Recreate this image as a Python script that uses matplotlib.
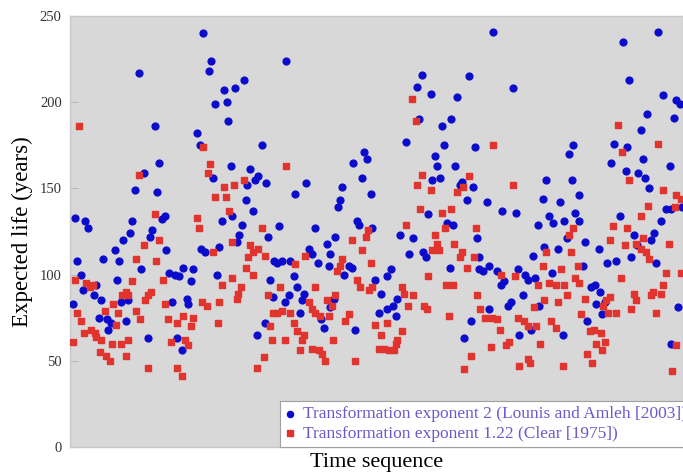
import matplotlib.pyplot as plt

plt.rcParams['font.family'] = ['Liberation Serif', 'DejaVu Serif']

# time step and expected life (years), exponent 2 (Lounis and Amleh)
blue_t = [69, 85, 89, 74, 65, 87, 5, 15, 18, 95, 92, 62, 60, 53, 82, 80, 45, 49, 96, 7,
          33, 71, 99, 11, 47, 26, 13, 24, 31, 3, 51, 58, 29, 37, 41, 38, 56, 78,
          133, 141, 139, 174, 165, 154, 145, 157, 158, 127, 192, 130, 161, 180, 188, 185, 177, 143,
          196, 176, 183, 162, 152, 172, 169, 167, 198, 131, 135, 149, 204, 113, 123, 105, 109, 147,
          121, 200, 203, 102, 117, 118, 195, 187, 107, 112,
          216, 294, 297, 283, 292, 236, 272, 225, 301, 270, 268, 287, 289, 302, 209, 245, 265, 257,
          239, 242, 248, 260, 207, 212, 220, 279, 282, 274, 259, 224, 227, 305, 234, 232, 219, 215,
          264, 260, 230, 251, 254, 285,
          352, 347, 361, 399, 387, 349, 381, 372, 336, 374, 405, 365, 367, 385, 362, 370, 392, 390,
          403, 397, 358, 377, 383, 330, 343, 407, 339, 353, 356, 380, 409, 321, 317, 311, 327, 323,
          317, 309, 326, 401, 394,
          423, 443, 503, 499, 476, 502, 473, 490, 509, 417, 432, 446, 479, 483, 468, 494, 505, 509,
          497, 474, 488, 463, 409, 419, 413, 427, 434, 431, 448, 455, 458, 465, 482, 453, 441, 438,
          419, 469, 461, 449, 493,
          588, 553, 559, 593, 606, 610, 577, 604, 571, 544, 557, 573, 541, 600, 556, 568, 575, 579,
          596, 601, 612, 550, 591, 584, 581, 564, 567, 515, 529, 561, 586, 537, 546, 513, 521, 525,
          530, 526, 535, 532, 608, 517, 601]
blue_y = [217, 186, 165, 159, 149, 148, 133, 131, 127, 134, 132, 131, 124, 120, 126, 122, 114, 108, 114, 108,
          109, 103, 101, 100, 97, 94, 91, 88, 85, 83, 84, 85, 75, 74, 72, 68, 73, 63,
          240, 224, 218, 213, 208, 207, 199, 200, 189, 182, 175, 175, 163, 161, 157, 155, 152, 156,
          153, 143, 137, 134, 131, 129, 123, 119, 122, 115, 113, 116, 108, 104, 103, 100, 99, 100,
          96, 97, 87, 84, 86, 83, 72, 65, 63, 56,
          224, 171, 167, 165, 156, 153, 151, 147, 147, 143, 139, 131, 129, 127, 128, 127, 122, 118,
          115, 112, 107, 112, 107, 108, 108, 105, 104, 100, 105, 99, 93, 97, 89, 85, 88, 84,
          86, 81, 78, 74, 69, 68,
          216, 209, 205, 215, 203, 190, 190, 186, 177, 175, 174, 169, 163, 163, 155, 156, 154, 152,
          151, 143, 135, 130, 129, 123, 121, 121, 112, 113, 110, 104, 103, 103, 99, 89, 86, 82,
          80, 78, 76, 73, 63,
          241, 208, 175, 170, 155, 155, 144, 142, 146, 142, 137, 136, 134, 130, 129, 131, 136, 131,
          121, 116, 115, 111, 110, 105, 102, 102, 96, 94, 103, 100, 97, 98, 101, 88, 84, 82,
          80, 82, 68, 65, 65,
          241, 235, 213, 204, 201, 199, 193, 191, 184, 176, 174, 167, 165, 163, 160, 159, 156, 150,
          138, 138, 139, 134, 131, 124, 120, 123, 117, 119, 115, 110, 107, 107, 108, 105, 93, 94,
          90, 83, 84, 77, 81, 73, 60]

# exponent 1.22 (Clear)
red_t = [9, 69, 85, 89, 74, 66, 86, 5, 16, 20, 23, 62, 93, 81, 78, 56, 52, 58, 43, 75,
         95, 7, 35, 48, 66, 70, 98, 11, 46, 21, 25, 14, 26, 31, 3, 42, 51, 58, 101, 30,
         36, 40, 56, 78,
         133, 140, 138, 154, 164, 174, 145, 156, 159, 127, 129, 192, 162, 143, 180, 188, 183, 195,
         178, 176, 183, 162, 152, 171, 168, 167, 198, 132, 137, 149, 203, 107, 113, 123, 121, 148,
         200, 115, 118, 202, 107, 112, 194, 187,
         216, 282, 296, 298, 292, 235, 272, 270, 267, 225, 301, 287, 290, 299, 302, 210, 245, 265,
         257, 262, 239, 242, 245, 250, 207, 212, 220, 259, 279, 275, 305, 224, 227, 234, 232, 230,
         215, 263, 242, 249, 252, 255, 285,
         342, 346, 352, 347, 361, 399, 387, 393, 350, 372, 381, 336, 375, 406, 365, 367, 362, 369,
         384, 392, 390, 404, 397, 358, 376, 383, 332, 334, 343, 407, 338, 354, 357, 379, 317, 332,
         311, 327, 309, 314, 319, 324, 326, 401, 394,
         423, 443, 503, 499, 476, 501, 508, 473, 491, 431, 445, 468, 479, 486, 494, 505, 509, 497,
         474, 488, 464, 410, 415, 422, 427, 430, 448, 454, 458, 466, 481, 486, 511, 439, 436, 470,
         421, 449, 458, 460, 493,
         548, 588, 552, 559, 593, 606, 611, 578, 605, 571, 543, 557, 573, 566, 571, 576, 579, 540,
         555, 599, 596, 593, 591, 551, 583, 581, 611, 515, 564, 566, 540, 536, 533, 538, 546, 561,
         586, 520, 524, 531, 526, 535, 532, 606, 517, 522, 602]
red_y = [186, 158, 135, 120, 117, 109, 108, 97, 95, 93, 94, 96, 97, 90, 88, 90, 88, 88, 83, 85,
         83, 78, 79, 78, 79, 74, 74, 73, 71, 68, 66, 66, 64, 62, 61, 60, 60, 62, 61, 55,
         53, 50, 53, 46,
         174, 164, 159, 151, 152, 155, 145, 145, 137, 133, 127, 127, 119, 113, 117, 115, 113, 111,
         110, 104, 100, 98, 94, 93, 89, 86, 88, 84, 82, 84, 78, 72, 76, 75, 70, 72,
         70, 62, 59, 62, 46, 41, 52, 46,
         163, 120, 122, 126, 114, 111, 109, 105, 102, 106, 107, 97, 93, 91, 93, 93, 93, 88,
         85, 82, 84, 80, 78, 76, 78, 79, 78, 76, 77, 73, 71, 72, 67, 65, 62, 56,
         62, 62, 57, 56, 54, 50, 50,
         202, 189, 158, 152, 149, 157, 148, 151, 138, 136, 138, 129, 127, 127, 123, 118, 114, 114,
         118, 113, 110, 110, 104, 99, 94, 94, 93, 89, 88, 88, 82, 82, 80, 76, 72, 67,
         65, 62, 57, 57, 56, 56, 60, 53, 45,
         175, 152, 127, 123, 113, 113, 105, 105, 103, 100, 99, 94, 95, 94, 94, 98, 95, 88,
         85, 84, 81, 80, 75, 75, 74, 68, 75, 73, 70, 70, 73, 69, 77, 61, 59, 60,
         58, 47, 51, 49, 47,
         187, 176, 171, 155, 149, 146, 144, 140, 139, 134, 128, 127, 121, 118, 115, 113, 109, 120,
         117, 118, 101, 94, 89, 98, 90, 88, 101, 86, 89, 85, 87, 85, 82, 78, 78, 80,
         78, 67, 68, 66, 60, 61, 56, 59, 54, 49, 44]

label_blue = 'Transformation exponent 2 (Lounis and Amleh [2003])'
label_red = 'Transformation exponent 1.22 (Clear [1975])'

fig = plt.figure(figsize=(6.83, 4.74), dpi=100)
ax = fig.add_axes([70/683, 27/474, 613/683, 431/474])
ax.set_facecolor('#d8d8d8')

ax.scatter(blue_t, blue_y, s=24, marker='o', color='#0b0bcc', label=label_blue, zorder=3)
ax.scatter(red_t, red_y, s=20, marker='s', color='#e2342f', label=label_red, zorder=3)

ax.set_xlim(0, 613)
ax.set_ylim(0, 250)
ax.set_yticks([0, 50, 100, 150, 200, 250])
ax.set_xticks([])
ax.tick_params(axis='y', direction='in', length=6, color='#b8b8b8', labelsize=10.5, pad=6,
               labelcolor='#333333')
for s in ax.spines.values():
    s.set_color('#c8c8c8')
    s.set_linewidth(1)

ax.set_ylabel('Expected life (years)', fontsize=16.5, labelpad=5)
ax.set_xlabel('Time sequence', fontsize=16, labelpad=4)

leg = ax.legend(loc='lower left', bbox_to_anchor=(280/683, 27/474), bbox_transform=fig.transFigure,
                fontsize=12.5, frameon=True, fancybox=False, framealpha=1, edgecolor='#a0a0a0',
                handlelength=0.6, handletextpad=0.45, borderpad=0.3, labelspacing=0.2,
                borderaxespad=0, markerscale=0.9)
leg.get_frame().set_linewidth(0.8)
for txt in leg.get_texts():
    txt.set_color('#6a5acd')

plt.savefig('out.png', dpi=100)
